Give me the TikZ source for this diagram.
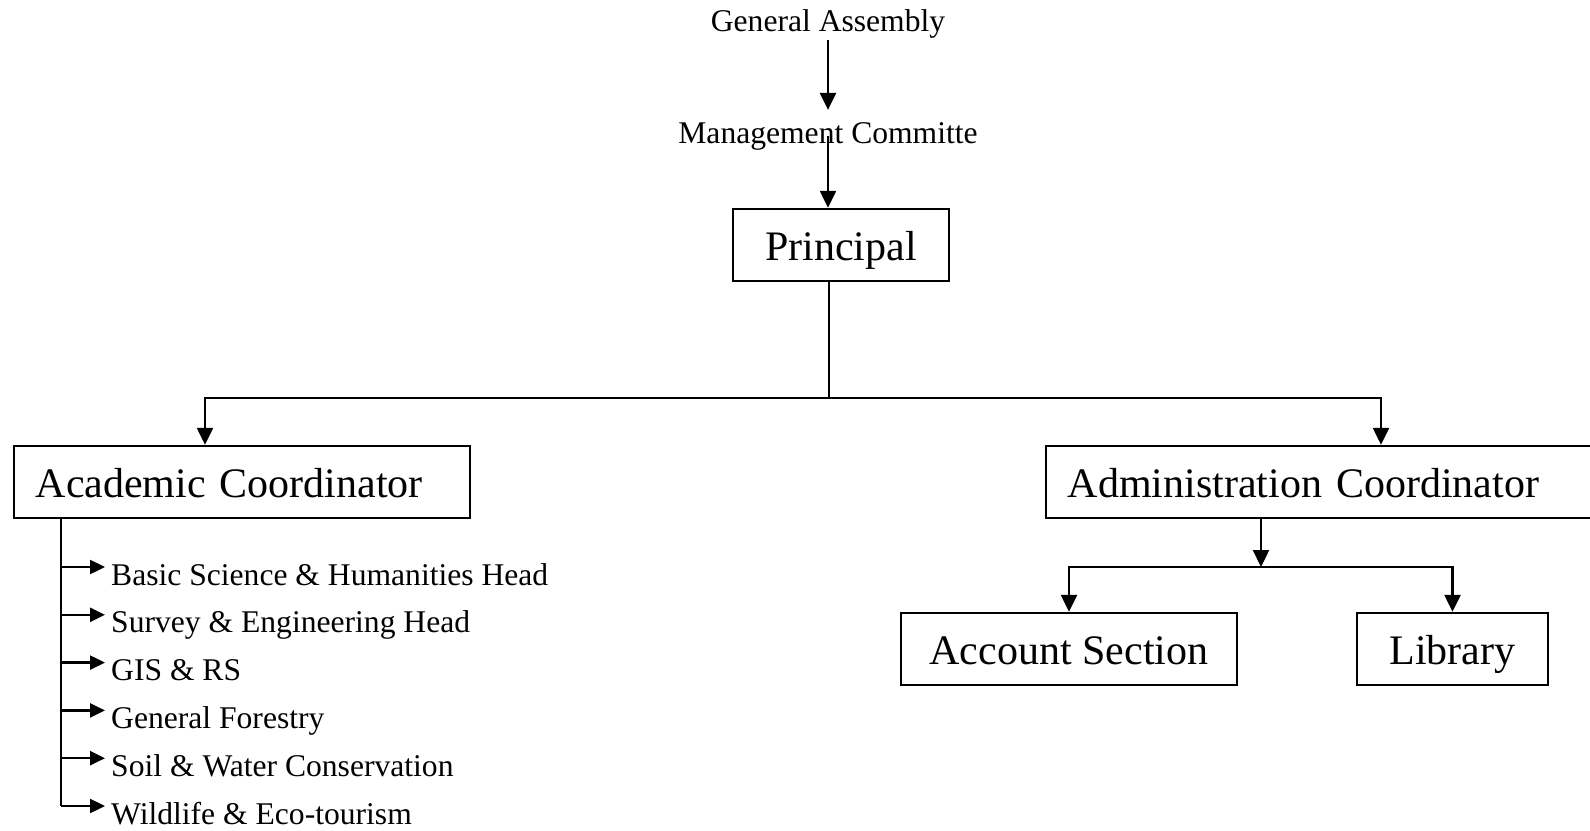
\documentclass[tikz,border=0pt]{standalone}
\usepackage{fontspec}
\setmainfont{Liberation Serif}
\usetikzlibrary{arrows.meta}
\begin{document}
\begin{tikzpicture}[x=0.5pt,y=-0.5pt,line width=1.2pt,
  arr/.style={-{Triangle[length=8.5pt,width=8pt]}},
  twig/.style={-{Triangle[length=7.5pt,width=7pt]},shorten >=2.5pt},
  small/.style={font=\fontsize{15.8}{19}\selectfont,inner sep=0pt},
  box/.style={draw,font=\fontsize{21}{25}\selectfont,inner ysep=0pt,inner xsep=10.75pt,
    text height=25.5pt,text depth=10.5pt,anchor=base}]
\useasboundingbox (0,0) rectangle (1590,830);
\node[small,anchor=base] (ga) at (828,32) {General Assembly};
\node[small,anchor=base] (mc) at (828,143) {Management Committe};
\node[box,minimum width=108pt] (pr) at (841,260) {Principal};
\node[box,anchor=base west,text width=206.5pt,align=left] (ac) at (13,497) {Academic Coordinator};
\node[box,anchor=base west,text width=260pt,align=left] (ad) at (1045,497) {Administration Coordinator};
\node[box,minimum width=168pt] (acc) at (1069,664) {Account Section};
\node[box,minimum width=95.5pt] (lib) at (1452.5,664) {Library};
\draw[arr,shorten >=5.5pt] (ga.south) -- (mc.north);
\draw[arr] (mc.center) -- (mc.center |- pr.north);
\coordinate (split) at (829,398);
\draw (split |- pr.south) -- (split);
\draw[arr] (split) -| ([xshift=96pt]ac.north west);
\draw[arr] (split) -| ([xshift=168pt]ad.north west);
\coordinate (adsplit) at (1261,567);
\draw[arr] (adsplit |- ad.south) -- (adsplit);
\draw[arr] (adsplit) -| (acc.north);
\draw[arr] (adsplit) -| (lib.north);
\foreach \name/\txt [count=\i from 0] in {bs/Basic Science \& Humanities Head,
    se/Survey \& Engineering Head,gr/GIS \& RS,gf/General Forestry,
    sw/Soil \& Water Conservation,we/Wildlife \& Eco-tourism}
  \node[small,anchor=base west] (\name) at (110,{585+47.8*\i}) {\txt};
\coordinate (stem) at ([xshift=24pt]ac.south west);
\foreach \name in {bs,se,gr,gf,sw,we}{
  \coordinate (\name-in) at ([yshift=9pt]\name.base west);
  \draw[twig] (stem |- \name-in) -- (\name-in);
}
\draw (stem) -- (stem |- we-in);
\end{tikzpicture}
\end{document}
